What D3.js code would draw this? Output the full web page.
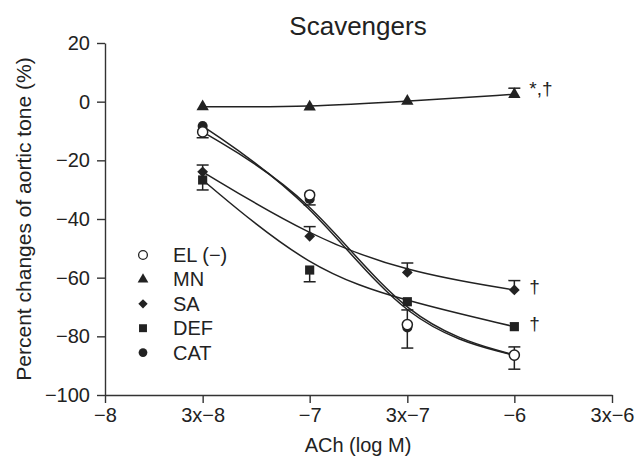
<!DOCTYPE html>
<html>
<head>
<meta charset="utf-8">
<script src="https://cdn.jsdelivr.net/npm/d3@7"></script>
<style>
  body { margin: 0; background: #fff; }
  svg { font-family: "Liberation Sans", Arial, Helvetica, sans-serif; }
  .axis path, .axis line { stroke: #333; stroke-width: 1.4; }
  .axis text { fill: #222; font-size: 20px; }
</style>
</head>
<body>
<div id="chart"></div>
<script>
var width = 638,
    height = 461;

// ACh concentrations (M)
var doses = [3e-8, 1e-7, 3e-7, 1e-6];
var xTicks = [1e-8, 3e-8, 1e-7, 3e-7, 1e-6, 3e-6];
var xTickLabels = ["−8", "3x−8", "−7", "3x−7", "−6", "3x−6"];
var yTicks = [20, 0, -20, -40, -60, -80, -100];

// means and one-sided SEM (positive = bar drawn up, negative = down)
var elMean  = [-10.3, -31.8, -76.0, -86.4];
var elErr   = [-2.0, -3.4, 5.0, 2.8];
var mnMean  = [-1.7, -1.8, 0.2, 2.5];
var mnErr   = [0, 0, 0, 2.1];
var saMean  = [-23.9, -45.9, -58.2, -64.2];
var saErr   = [2.3, 3.3, 3.2, 3.2];
var defMean = [-26.7, -57.4, -68.2, -76.7];
var defErr  = [-3.4, -4.0, 0, 0];
var catMean = [-8.3, -33.2, -77.0, -86.5];
var catErr  = [0, 0, -7.0, -4.7];

var series = [
  {name: "MN",     mean: mnMean,  err: mnErr,  shape: "triangle", note: "*,†"},
  {name: "SA",     mean: saMean,  err: saErr,  shape: "diamond",  note: "†"},
  {name: "DEF",    mean: defMean, err: defErr, shape: "square",   note: "†"},
  {name: "CAT",    mean: catMean, err: catErr, shape: "circle"},
  {name: "EL (−)", mean: elMean,  err: elErr,  shape: "open"}
];
var legendOrder = ["EL (−)", "MN", "SA", "DEF", "CAT"];

var svg = d3.select("#chart").append("svg")
    .attr("width", width)
    .attr("height", height);

var x = d3.scaleLog().domain([1e-8, 3e-6]).range([105, 612]);
var y = d3.scaleLinear().domain([-100, 20]).range([395, 43]);

var ink = "#222";

function symbolPath(shape, scale) {
  var s = scale || 1;
  if (shape === "triangle") return d3.symbol(d3.symbolTriangle, 66 * s)();
  if (shape === "diamond") return d3.symbol(d3.symbolSquare, 58 * s)();
  if (shape === "square") return d3.symbol(d3.symbolSquare, 84 * s)();
  return d3.symbol(d3.symbolCircle, 80 * s)();
}

// axes
svg.append("g")
    .attr("class", "axis")
    .attr("transform", "translate(105,0)")
    .call(d3.axisLeft(y).tickValues(yTicks).tickSize(8).tickSizeOuter(0).tickPadding(7));

svg.append("g")
    .attr("class", "axis")
    .attr("transform", "translate(0,395)")
    .call(d3.axisBottom(x).tickValues(xTicks).tickSize(8).tickSizeOuter(0).tickPadding(5)
      .tickFormat(function(d, i) { return xTickLabels[i]; }));

// titles
svg.append("text")
    .attr("x", 358).attr("y", 35)
    .attr("text-anchor", "middle")
    .attr("font-size", 26)
    .attr("fill", ink)
    .text("Scavengers");

svg.append("text")
    .attr("x", 358).attr("y", 452)
    .attr("text-anchor", "middle")
    .attr("font-size", 20)
    .attr("fill", ink)
    .text("ACh (log M)");

svg.append("text")
    .attr("transform", "translate(31,219) rotate(-90)")
    .attr("text-anchor", "middle")
    .attr("font-size", 21)
    .attr("fill", ink)
    .text("Percent changes of aortic tone (%)");

// fitted curves
var line = d3.line()
    .x(function(d, i) { return x(doses[i]); })
    .y(function(d) { return y(d); })
    .curve(d3.curveBasis);

svg.append("g")
  .selectAll("path")
  .data(series)
  .enter().append("path")
    .attr("d", function(d) { return line(d.mean); })
    .attr("fill", "none")
    .attr("stroke", ink)
    .attr("stroke-width", 1.5);

// error bars
series.forEach(function(s) {
  var g = svg.append("g").attr("stroke", ink).attr("stroke-width", 1.5);
  s.mean.forEach(function(m, i) {
    if (!s.err[i]) return;
    var cx = x(doses[i]);
    var end = y(m + s.err[i]);
    g.append("line").attr("x1", cx).attr("x2", cx).attr("y1", y(m)).attr("y2", end);
    g.append("line").attr("x1", cx - 6).attr("x2", cx + 6).attr("y1", end).attr("y2", end);
  });
});

// markers
series.forEach(function(s) {
  svg.append("g")
    .selectAll("path")
    .data(s.mean)
    .enter().append("path")
      .attr("d", symbolPath(s.shape))
      .attr("transform", function(d, i) {
        return "translate(" + x(doses[i]) + "," + y(d) + ")" + (s.shape === "diamond" ? " rotate(45)" : "");
      })
      .attr("fill", s.shape === "open" ? "#fff" : ink)
      .attr("stroke", ink)
      .attr("stroke-width", s.shape === "open" ? 1.5 : 0);
});

// significance marks
series.filter(function(s) { return s.note; }).forEach(function(s) {
  var last = s.mean.length - 1;
  svg.append("text")
    .attr("x", x(doses[last]) + 15)
    .attr("y", y(s.mean[last]) + (s.name === "MN" ? 1 : 3))
    .attr("font-size", 19)
    .attr("fill", ink)
    .text(s.note);
});

// legend
var legend = svg.append("g")
  .selectAll("g")
  .data(legendOrder)
  .enter().append("g")
    .attr("transform", function(d, i) { return "translate(143," + (255 + i * 24.4) + ")"; });

legend.append("path")
    .attr("d", function(d) {
      var s = series.find(function(t) { return t.name === d; });
      return symbolPath(s.shape, 0.75);
    })
    .attr("transform", function(d) { return d === "SA" ? "rotate(45)" : null; })
    .attr("fill", function(d) { return d === "EL (−)" ? "#fff" : ink; })
    .attr("stroke", ink)
    .attr("stroke-width", function(d) { return d === "EL (−)" ? 1.3 : 0; });

legend.append("text")
    .attr("x", 30)
    .attr("y", 7)
    .attr("font-size", 20)
    .attr("fill", ink)
    .text(function(d) { return d; });
</script>
</body>
</html>
